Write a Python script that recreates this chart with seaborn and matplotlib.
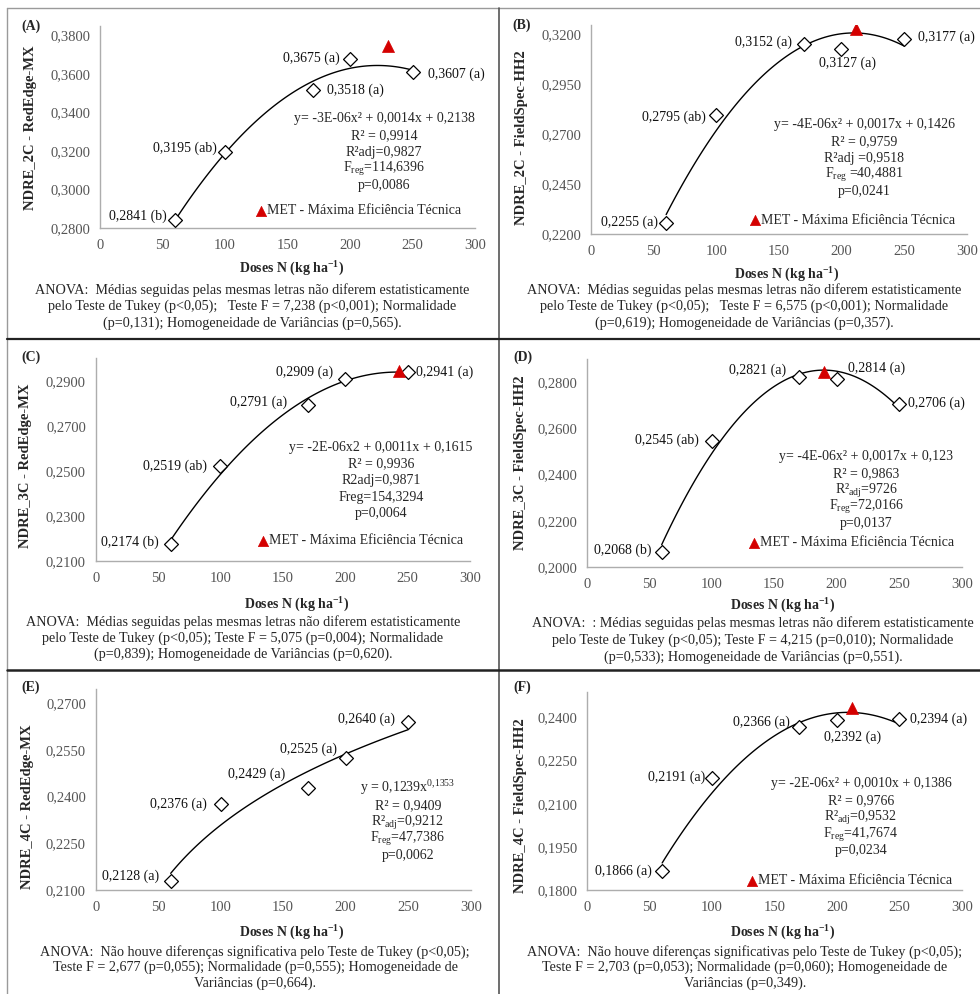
import numpy as np
import pandas as pd
import matplotlib
matplotlib.use("Agg")
import matplotlib.pyplot as plt
from matplotlib.lines import Line2D
import seaborn as sns

# ---------------------------------------------------------------- data
doses = [60, 100, 170, 200, 250]

ndre_2c_mx = [0.2841, 0.3195, 0.3518, 0.3675, 0.3607]
ndre_2c_hh2 = [0.2255, 0.2795, 0.3152, 0.3127, 0.3177]
ndre_3c_mx = [0.2174, 0.2519, 0.2791, 0.2909, 0.2941]
ndre_3c_hh2 = [0.2068, 0.2545, 0.2821, 0.2814, 0.2706]
ndre_4c_mx = [0.2128, 0.2376, 0.2429, 0.2525, 0.2640]
ndre_4c_hh2 = [0.1866, 0.2191, 0.2366, 0.2392, 0.2394]

tukey_2c_mx = ["b", "ab", "a", "a", "a"]
tukey_2c_hh2 = ["a", "ab", "a", "a", "a"]
tukey_3c_mx = ["b", "ab", "a", "a", "a"]
tukey_3c_hh2 = ["b", "ab", "a", "a", "a"]
tukey_4c_mx = ["a", "a", "a", "a", "a"]
tukey_4c_hh2 = ["a", "a", "a", "a", "a"]

# maximum technical efficiency (dose, index)
met_2c_mx = (230, 0.3745)
met_2c_hh2 = (212, 0.3225)
met_3c_mx = (243, 0.2943)
met_3c_hh2 = (190, 0.2843)
met_4c_mx = None
met_4c_hh2 = (212, 0.2432)

xticks = [0, 50, 100, 150, 200, 250, 300]
yticks_2c_mx = [0.28, 0.30, 0.32, 0.34, 0.36, 0.38]
yticks_2c_hh2 = [0.22, 0.245, 0.27, 0.295, 0.32]
yticks_3c_mx = [0.21, 0.23, 0.25, 0.27, 0.29]
yticks_3c_hh2 = [0.20, 0.22, 0.24, 0.26, 0.28]
yticks_4c_mx = [0.21, 0.225, 0.24, 0.255, 0.27]
yticks_4c_hh2 = [0.18, 0.195, 0.21, 0.225, 0.24]

ylabels = ["NDRE_2C - RedEdge-MX", "NDRE_2C - FieldSpec-HH2",
           "NDRE_3C - RedEdge-MX", "NDRE_3C - FieldSpec-HH2",
           "NDRE_4C - RedEdge-MX", "NDRE_4C - FieldSpec-HH2"]

equations = [
    ["y= -3E-06x² + 0,0014x + 0,2138", "R² = 0,9914", "R²adj=0,9827",
     r"F$_{\mathrm{reg}}$=114,6396", "p=0,0086"],
    ["y= -4E-06x² + 0,0017x + 0,1426", "R² = 0,9759", "R²adj =0,9518",
     r"F$_{\mathrm{reg}}$ =40,4881", "p=0,0241"],
    ["y= -2E-06x2 + 0,0011x + 0,1615", "R² = 0,9936", "R2adj=0,9871",
     "Freg=154,3294", "p=0,0064"],
    ["y= -4E-06x² + 0,0017x + 0,123", "R² = 0,9863",
     r"R²$_{\mathrm{adj}}$=9726", r"F$_{\mathrm{reg}}$=72,0166", "p=0,0137"],
    [r"y = 0,1239x$^{0{,}1353}$", "R² = 0,9409",
     r"R²$_{\mathrm{adj}}$=0,9212", r"F$_{\mathrm{reg}}$=47,7386", "p=0,0062"],
    ["y= -2E-06x² + 0,0010x + 0,1386", "R² = 0,9766",
     r"R²$_{\mathrm{adj}}$=0,9532", r"F$_{\mathrm{reg}}$=41,7674", "p=0,0234"],
]

captions = [
    ["ANOVA:  Médias seguidas pelas mesmas letras não diferem estatisticamente",
     "pelo Teste de Tukey (p<0,05);   Teste F = 7,238 (p<0,001); Normalidade",
     "(p=0,131); Homogeneidade de Variâncias (p=0,565)."],
    ["ANOVA:  Médias seguidas pelas mesmas letras não diferem estatisticamente",
     "pelo Teste de Tukey (p<0,05);   Teste F = 6,575 (p<0,001); Normalidade",
     "(p=0,619); Homogeneidade de Variâncias (p=0,357)."],
    ["ANOVA:  Médias seguidas pelas mesmas letras não diferem estatisticamente",
     "pelo Teste de Tukey (p<0,05); Teste F = 5,075 (p=0,004); Normalidade",
     "(p=0,839); Homogeneidade de Variâncias (p=0,620)."],
    ["ANOVA:  : Médias seguidas pelas mesmas letras não diferem estatisticamente",
     "pelo Teste de Tukey (p<0,05); Teste F = 4,215 (p=0,010); Normalidade",
     "(p=0,533); Homogeneidade de Variâncias (p=0,551)."],
    ["ANOVA:  Não houve diferenças significativa pelo Teste de Tukey (p<0,05);",
     "Teste F = 2,677 (p=0,055); Normalidade (p=0,555); Homogeneidade de",
     "Variâncias (p=0,664)."],
    ["ANOVA:  Não houve diferenças significativas pelo Teste de Tukey (p<0,05);",
     "Teste F = 2,703 (p=0,053); Normalidade (p=0,060); Homogeneidade de",
     "Variâncias (p=0,349)."],
]

# ---------------------------------------------------------------- style
sns.set_style("white")
plt.rcParams["font.family"] = ["Liberation Serif", "DejaVu Serif"]
plt.rcParams["mathtext.fontset"] = "custom"
plt.rcParams["mathtext.rm"] = "Liberation Serif"
plt.rcParams["mathtext.it"] = "Liberation Serif:italic"
plt.rcParams["mathtext.bf"] = "Liberation Serif:bold"

W, H = 980, 994
fig = plt.figure(figsize=(W / 100, H / 100), dpi=100)
fig.patch.set_facecolor("white")

FS = 10
AXIS_GREY = "#ADADAD"
TICK_GREY = "#555555"
MET_RED = "#D40000"


def fx(px):
    return px / W


def fy(py):
    return 1 - py / H


def ftext(x, y, s, **kw):
    kw.setdefault("fontsize", FS)
    return fig.text(fx(x), fy(y), s, **kw)


# layout of every panel in pixels
panels = [
    dict(vals=ndre_2c_mx, tukey=tukey_2c_mx, met=met_2c_mx, yt=yticks_2c_mx,
         box=(100, 475, 228.3, 26), ytop=0.3847, fit="quad", tag="(A)",
         tagpos=(21, 26), ylab=(31, 128), xlab=(292, 269),
         eq=(384, 122, 16.8), cap=(252, 290, 16.5), leg=(256, 211),
         off=[(-8, 4, "right"), (-8, 4, "right"), (14, -1, "left"),
              (-10, 1, "right"), (15, -2, "left")]),
    dict(vals=ndre_2c_hh2, tukey=tukey_2c_hh2, met=met_2c_hh2, yt=yticks_2c_hh2,
         box=(591, 966.7, 234.3, 25), ytop=0.3247, fit="quad", tag="(B)",
         tagpos=(512, 25), ylab=(522, 138), xlab=(787, 275),
         eq=(864, 128, 16.8), cap=(744, 290, 16.5), leg=(750, 220),
         off=[(-8, 1, "right"), (-10, -2, "right"), (-12, 2, "right"),
              (6, -14, "center"), (14, 2, "left")]),
    dict(vals=ndre_3c_mx, tukey=tukey_3c_mx, met=met_3c_mx, yt=yticks_3c_mx,
         box=(95.7, 470, 560.7, 358.3), ytop=0.300, fit="quad", tag="(C)",
         tagpos=(21, 357), ylab=(25, 466), xlab=(297, 605),
         eq=(381, 451, 16.5), cap=(243, 622, 16.0), leg=(258, 541),
         off=[(-12, 2, "right"), (-13, 0, "right"), (-21, 3, "right"),
              (-12, 7, "right"), (8, -1, "left")]),
    dict(vals=ndre_3c_hh2, tukey=tukey_3c_hh2, met=met_3c_hh2, yt=yticks_3c_hh2,
         box=(586.7, 961.7, 567.3, 359.3), ytop=0.2897, fit="quad", tag="(D)",
         tagpos=(513, 357), ylab=(520, 463), xlab=(783, 606),
         eq=(866, 460, 16.8), cap=(753, 623, 17.0), leg=(749, 543),
         off=[(-10, 1, "right"), (-13, 1, "right"), (-13, 7, "right"),
              (11, 10, "left"), (9, 0, "left")]),
    dict(vals=ndre_4c_mx, tukey=tukey_4c_mx, met=met_4c_mx, yt=yticks_4c_mx,
         box=(95.7, 470.7, 890, 689), ytop=0.2746, fit="power", tag="(E)",
         tagpos=(21, 687), ylab=(27, 807), xlab=(292, 933),
         eq=(408, 792, 16.8), cap=(255, 952, 15.5), leg=None,
         off=[(-12, 5, "right"), (-14, 0, "right"), (-23, 13, "right"),
              (-9, 9, "right"), (-13, 3, "right")]),
    dict(vals=ndre_4c_hh2, tukey=tukey_4c_hh2, met=met_4c_hh2, yt=yticks_4c_hh2,
         box=(587.3, 961.7, 890, 691.7), ytop=0.249, fit="quad", tag="(F)",
         tagpos=(513, 687), ylab=(520, 806), xlab=(783, 933),
         eq=(861, 787, 16.8), cap=(745, 952, 15.5), leg=(747, 881),
         off=[(-10, 0, "right"), (-7, 0, "right"), (-10, 5, "right"),
              (16, -17, "center"), (11, 0, "left")]),
]

for i, p in enumerate(panels):
    l, r, b, t = p["box"]
    ax = fig.add_axes([fx(l), fy(b), fx(r - l), (b - t) / H])
    ax.set_facecolor("none")
    df = pd.DataFrame({"dose": doses, "ndre": p["vals"]})

    # fitted trend line
    if p["fit"] == "quad":
        sns.regplot(data=df, x="dose", y="ndre", order=2, ci=None,
                    scatter=False, truncate=True, ax=ax,
                    line_kws=dict(color="black", lw=1.0))
    else:
        b_exp, log_a = np.polyfit(np.log(df["dose"]), np.log(df["ndre"]), 1)
        grid = np.linspace(df["dose"].min(), df["dose"].max(), 100)
        curve = pd.DataFrame({"dose": grid,
                              "ndre": np.exp(log_a) * grid ** b_exp})
        sns.lineplot(data=curve, x="dose", y="ndre", ax=ax,
                     color="black", lw=1.0)

    # treatment means
    sns.scatterplot(data=df, x="dose", y="ndre", marker="D", s=50,
                    color="white", edgecolor="black", linewidth=0.9,
                    ax=ax, zorder=4)

    # MET marker and its legend entry
    if p["met"] is not None:
        sns.scatterplot(x=[p["met"][0]], y=[p["met"][1]], marker="^", s=75,
                        color=MET_RED, edgecolor=MET_RED, linewidth=0.5,
                        ax=ax, zorder=5,
                        label="MET - Máxima Eficiência Técnica")
        lx, ly = p["leg"]
        ax.legend(loc="center left", bbox_to_anchor=(fx(lx), fy(ly)),
                  bbox_transform=fig.transFigure, frameon=False,
                  fontsize=FS, handlelength=0.7, handletextpad=0.1,
                  borderpad=0, borderaxespad=0, markerscale=0.85)

    # value labels with Tukey letters
    for x, y, letter, (dx, dy, ha) in zip(doses, p["vals"], p["tukey"], p["off"]):
        lab = f"{y:.4f}".replace(".", ",") + f" ({letter})"
        ax.annotate(lab, xy=(x, y), xytext=(dx, dy), textcoords="offset pixels",
                    ha=ha, va="center", fontsize=FS, color="#111111")

    ax.set_xlim(0, 300)
    ax.set_ylim(p["yt"][0], p["ytop"])
    ax.set_xticks(xticks)
    ax.set_yticks(p["yt"])
    ax.set_xticklabels([str(v) for v in xticks])
    ax.set_yticklabels([f"{v:.4f}".replace(".", ",") for v in p["yt"]])
    ax.set_xlabel("")
    ax.set_ylabel("")
    for side in ("top", "right"):
        ax.spines[side].set_visible(False)
    for side in ("left", "bottom"):
        ax.spines[side].set_color(AXIS_GREY)
        ax.spines[side].set_linewidth(1.0)
    ax.tick_params(axis="both", direction="out", length=4, width=1.0,
                   color=AXIS_GREY, labelcolor=TICK_GREY, labelsize=10.5)
    ax.tick_params(axis="x", pad=4)
    ax.tick_params(axis="y", pad=3)

    # panel letter, axis titles
    ftext(*p["tagpos"], p["tag"], fontweight="bold", ha="left", va="center")
    ftext(*p["ylab"], ylabels[i], fontweight="bold", rotation=90,
          ha="center", va="center", fontsize=10.5)
    ftext(*p["xlab"], r"Doses N (kg ha$^{\mathbf{-1}}$)", fontweight="bold",
          ha="center", va="center")

    # regression statistics, stacked on baselines
    ex, ey, estep = p["eq"]
    for k, line in enumerate(equations[i]):
        ftext(ex, ey + k * estep, line, ha="center", va="baseline",
              fontsize=10)

    # ANOVA caption
    cx, cy, cstep = p["cap"]
    for k, line in enumerate(captions[i]):
        ftext(cx, cy + k * cstep, line, ha="center", va="center",
              fontsize=10.2)

# panel frame lines
def fline(x0, y0, x1, y1, color, lw):
    fig.add_artist(Line2D([fx(x0), fx(x1)], [fy(y0), fy(y1)],
                          transform=fig.transFigure, color=color, lw=lw))

fline(7, 8, 980, 8, "#9A9A9A", 1.0)
fline(7, 8, 7, 994, "#9A9A9A", 1.0)
fline(499, 8, 499, 994, "#555555", 1.2)
fline(7, 339, 980, 339, "#222222", 1.6)
fline(7, 670, 980, 670, "#222222", 1.8)

fig.savefig("out.png", dpi=100, facecolor="white")
